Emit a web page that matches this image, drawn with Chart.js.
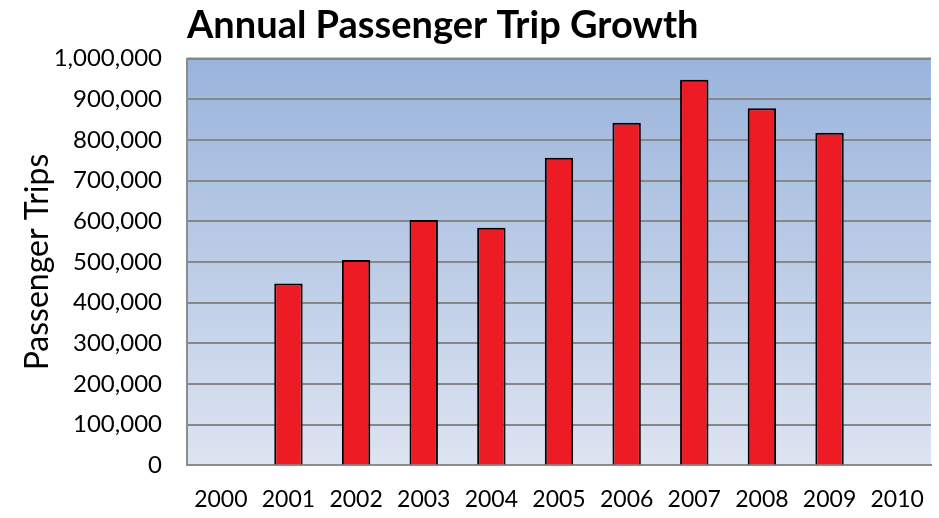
<!DOCTYPE html>
<html>
<head>
<meta charset="utf-8">
<script src="https://cdn.jsdelivr.net/npm/chart.js@4/dist/chart.umd.min.js"></script>
<style>
  html, body { margin: 0; padding: 0; background: #fff; }
  #wrap { width: 939px; height: 518px; position: relative; }
</style>
</head>
<body>
<div id="wrap"><canvas id="chart"></canvas></div>
<script>
// data
const years = ["2000", "2001", "2002", "2003", "2004", "2005", "2006", "2007", "2008", "2009", "2010"];
const passengerTrips = [null, 447000, 505000, 603000, 584000, 756000, 842000, 948000, 878000, 818000, null];
const yTicks = [0, 100000, 200000, 300000, 400000, 500000, 600000, 700000, 800000, 900000, 1000000];

// paint the plot area with the blue gradient before anything else
const plotBackground = {
  id: "plotBackground",
  beforeDraw(chart) {
    const { ctx, chartArea: a } = chart;
    const g = ctx.createLinearGradient(0, a.top, 0, a.bottom);
    g.addColorStop(0, "#9ab4dc");
    g.addColorStop(1, "#dde4f1");
    ctx.save();
    ctx.fillStyle = g;
    ctx.fillRect(a.left, a.top, a.right - a.left, a.bottom - a.top);
    // top edge of the plot box
    ctx.strokeStyle = "#8c8c8c";
    ctx.lineWidth = 2;
    ctx.beginPath();
    ctx.moveTo(a.left, a.top);
    ctx.lineTo(a.right, a.top);
    ctx.stroke();
    ctx.restore();
  }
};

const chart = new Chart(document.getElementById("chart"), {
  type: "bar",
  data: {
    labels: years,
    datasets: [{
      label: "Passenger Trips",
      data: passengerTrips,
      backgroundColor: "#ed1c24",
      borderColor: "#000",
      borderWidth: 2,
      borderSkipped: "bottom",
      categoryPercentage: 1,
      barPercentage: 0.42
    }]
  },
  options: {
    responsive: true,
    maintainAspectRatio: false,
    animation: false,
    layout: { padding: { top: 0, right: 8, bottom: -15, left: 18 } },
    plugins: {
      legend: { display: false },
      tooltip: { enabled: false },
      title: {
        display: true,
        text: "Annual Passenger Trip Growth",
        align: "start",
        fullSize: false,
        color: "#000",
        font: { family: "Lato", size: 38, weight: "bold" },
        padding: { top: 3, bottom: 10 }
      }
    },
    scales: {
      x: {
        grid: { display: false, drawTicks: false },
        border: { color: "#8c8c8c", width: 2 },
        ticks: {
          color: "#000",
          padding: 20,
          maxRotation: 0,
          font: { family: "Lato", size: 23 }
        },
        // no extra side room for the end labels
        afterFit: (axis) => { axis.paddingLeft = 0; axis.paddingRight = 0; }
      },
      y: {
        min: 0,
        max: 1000000,
        afterBuildTicks: (axis) => { axis.ticks = yTicks.map(v => ({ value: v })); },
        afterFit: (axis) => { axis.width = 169; },
        grid: { color: "#878787", lineWidth: 2, drawTicks: false },
        border: { color: "#8c8c8c", width: 2 },
        ticks: {
          color: "#000",
          padding: 25,
          font: { family: "Lato", size: 24 },
          callback: (v) => v.toLocaleString("en-US")
        },
        title: {
          display: true,
          text: "Passenger Trips",
          color: "#000",
          font: { family: "Lato", size: 32 },
          padding: { top: 0, bottom: 2 }
        }
      }
    }
  },
  plugins: [plotBackground]
});
</script>
</body>
</html>
